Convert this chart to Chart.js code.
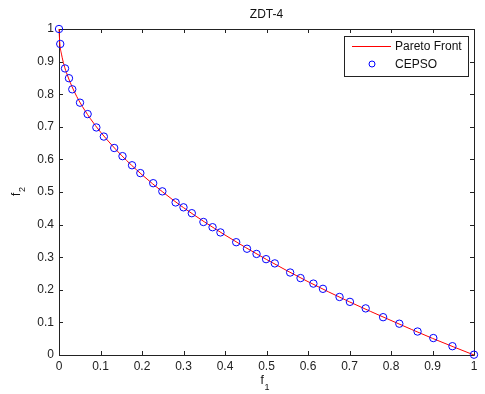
<!DOCTYPE html>
<html>
<head>
<meta charset="utf-8">
<script src="https://cdn.jsdelivr.net/npm/chart.js@4"></script>
<style>
    html, body { margin: 0; padding: 0; background: #fff; }
    #wrap { width: 485px; height: 394px; }
</style>
</head>
<body>
<div id="wrap"><canvas id="myChart"></canvas></div>
<script>
// Pareto front
const frontF1 = [0, 0.002, 0.006, 0.012, 0.02, 0.035, 0.05, 0.075, 0.1, 0.15, 0.2, 0.25, 0.3, 0.4, 0.5, 0.6, 0.7, 0.8, 0.9, 1.0];
const frontF2 = [1, 0.955, 0.923, 0.89, 0.859, 0.813, 0.776, 0.726, 0.684, 0.613, 0.553, 0.5, 0.452, 0.368, 0.293, 0.225, 0.163, 0.106, 0.051, 0];

// CEPSO solutions (blue circles)
const cepsoF1 = [0, 0.003, 0.0145, 0.024, 0.032, 0.0506, 0.069, 0.09, 0.108, 0.133, 0.153, 0.176, 0.196, 0.227, 0.249,
    0.281, 0.300, 0.320, 0.348, 0.370, 0.389, 0.427, 0.453, 0.476, 0.499, 0.520, 0.557, 0.582, 0.613, 0.636,
    0.676, 0.701, 0.739, 0.781, 0.820, 0.864, 0.902, 0.948, 1.0];
const cepsoF2 = [1, 0.954, 0.879, 0.849, 0.815, 0.774, 0.739, 0.698, 0.670, 0.635, 0.610, 0.582, 0.558, 0.527, 0.502,
    0.468, 0.453, 0.435, 0.408, 0.392, 0.376, 0.346, 0.326, 0.310, 0.294, 0.281, 0.253, 0.236, 0.219, 0.203,
    0.178, 0.163, 0.143, 0.116, 0.096, 0.072, 0.052, 0.027, 0.001];

const tickValues = [0, 0.1, 0.2, 0.3, 0.4, 0.5, 0.6, 0.7, 0.8, 0.9, 1];

const FONT = "Liberation Sans, Arial, sans-serif";

const toPoints = (xs, ys) => xs.map((x, i) => ({ x: x, y: ys[i] }));

// box + inward ticks under the data, matlab style
const matlabBox = {
    id: "matlabBox",
    beforeDatasetsDraw(chart) {
        const ctx = chart.ctx;
        const a = chart.chartArea;
        const xs = chart.scales.x;
        const ys = chart.scales.y;
        ctx.save();
        ctx.strokeStyle = "#222";
        ctx.lineWidth = 1;
        ctx.beginPath();
        ctx.rect(Math.round(a.left) + 0.5, Math.round(a.top) + 0.5,
            Math.round(a.right - a.left), Math.round(a.bottom - a.top));
        ctx.stroke();

        const tl = 4;
        ctx.beginPath();
        tickValues.forEach((v) => {
            const px = Math.round(xs.getPixelForValue(v)) + 0.5;
            ctx.moveTo(px, a.bottom);
            ctx.lineTo(px, a.bottom - tl);
            ctx.moveTo(px, a.top);
            ctx.lineTo(px, a.top + tl);
            const py = Math.round(ys.getPixelForValue(v)) + 0.5;
            ctx.moveTo(a.left, py);
            ctx.lineTo(a.left + tl, py);
            ctx.moveTo(a.right, py);
            ctx.lineTo(a.right - tl, py);
        });
        ctx.stroke();
        ctx.restore();
    },
};

// title, axis labels with subscripts, legend
const matlabText = {
    id: "matlabText",
    afterDraw(chart) {
        const ctx = chart.ctx;
        const a = chart.chartArea;
        ctx.save();
        ctx.fillStyle = "#111";
        ctx.font = "12px " + FONT;
        ctx.textAlign = "center";
        ctx.textBaseline = "middle";
        ctx.fillText("ZDT-4", (a.left + a.right) / 2, 15);

        // x label f1
        const cx = (a.left + a.right) / 2;
        ctx.textAlign = "left";
        ctx.font = "12px " + FONT;
        ctx.fillText("f", cx - 6, 381);
        ctx.font = "9px " + FONT;
        ctx.fillText("1", cx - 2, 388);

        // y label f2 (rotated)
        ctx.save();
        ctx.translate(17, (a.top + a.bottom) / 2);
        ctx.rotate(-Math.PI / 2);
        ctx.font = "12px " + FONT;
        ctx.fillText("f", -4, 0);
        ctx.font = "9px " + FONT;
        ctx.fillText("2", 0, 6);
        ctx.restore();

        // legend
        const lx = 344, ly = 36, lw = 124, lh = 40;
        ctx.fillStyle = "#fff";
        ctx.fillRect(lx, ly, lw, lh);
        ctx.strokeStyle = "#222";
        ctx.lineWidth = 1;
        ctx.strokeRect(lx + 0.5, ly + 0.5, lw, lh);
        const ds = chart.data.datasets;
        ctx.strokeStyle = ds[0].borderColor;
        ctx.beginPath();
        ctx.moveTo(352, 46.5);
        ctx.lineTo(391, 46.5);
        ctx.stroke();
        ctx.strokeStyle = ds[1].borderColor;
        ctx.beginPath();
        ctx.arc(372, 64, 3, 0, Math.PI * 2);
        ctx.stroke();
        ctx.fillStyle = "#111";
        ctx.font = "12px " + FONT;
        ctx.textAlign = "left";
        ctx.fillText(ds[0].label, 395, 47);
        ctx.fillText(ds[1].label, 395, 65);
        ctx.restore();
    },
};

const config = {
    type: "scatter",
    data: {
        datasets: [
            {
                label: "Pareto Front",
                data: toPoints(frontF1, frontF2),
                showLine: true,
                borderColor: "#ff0000",
                borderWidth: 1,
                pointRadius: 0,
                cubicInterpolationMode: "monotone",
                clip: false,
                order: 2,
            },
            {
                label: "CEPSO",
                data: toPoints(cepsoF1, cepsoF2),
                showLine: false,
                borderColor: "#0000ff",
                backgroundColor: "rgba(0,0,0,0)",
                borderWidth: 1,
                pointRadius: 3.7,
                clip: false,
                order: 1,
            },
        ],
    },
    options: {
        responsive: true,
        maintainAspectRatio: false,
        animation: false,
        devicePixelRatio: 1,
        layout: { padding: { top: 29, right: 11, left: 0, bottom: 0 } },
        plugins: {
            legend: { display: false },
            tooltip: { enabled: false },
        },
        scales: {
            x: {
                type: "linear",
                min: 0,
                max: 1,
                afterFit: (scale) => { scale.height = 39; },
                afterBuildTicks: (scale) => { scale.ticks = tickValues.map((v) => ({ value: v })); },
                grid: { display: false, drawTicks: false },
                border: { display: false },
                ticks: {
                    color: "#222",
                    font: { family: FONT, size: 12 },
                    padding: 4,
                    maxRotation: 0,
                    autoSkip: false,
                    callback: (v) => String(Math.round(v * 10) / 10),
                },
            },
            y: {
                type: "linear",
                min: 0,
                max: 1,
                afterFit: (scale) => { scale.width = 59; },
                afterBuildTicks: (scale) => { scale.ticks = tickValues.map((v) => ({ value: v })); },
                grid: { display: false, drawTicks: false },
                border: { display: false },
                ticks: {
                    color: "#222",
                    font: { family: FONT, size: 12 },
                    padding: 5,
                    autoSkip: false,
                    callback: (v) => String(Math.round(v * 10) / 10),
                },
            },
        },
    },
    plugins: [matlabBox, matlabText],
};

var myChart = new Chart(document.getElementById("myChart"), config);
</script>
</body>
</html>
